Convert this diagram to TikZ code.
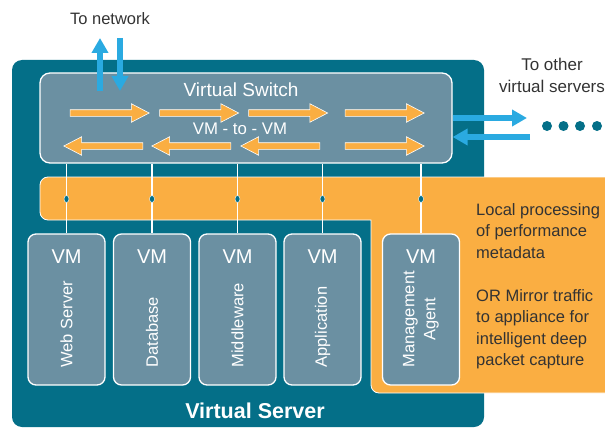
\documentclass[tikz,border=0pt]{standalone}
\usepackage{fontspec}
\setmainfont{Liberation Sans}
\usetikzlibrary{shapes.arrows, shapes.geometric, arrows.meta, positioning, calc}
\definecolor{vsteal}{RGB}{4, 111, 136}
\definecolor{vsgrey}{RGB}{107, 144, 162}
\definecolor{vsorange}{RGB}{250, 174, 66}
\definecolor{vsblue}{RGB}{42, 170, 225}
\definecolor{vstext}{RGB}{51, 51, 51}

\tikzset{
  vmbox/.style={draw=white, line width=1.3pt, fill=vsgrey, rounded corners=8pt,
    minimum width=77pt, minimum height=151pt, inner sep=0pt},
  vmtitle/.style={text=white, font=\fontsize{20}{24}\selectfont, inner sep=0pt},
  vmrole/.style={text=white, font=\fontsize{16.5}{21}\selectfont, rotate=90,
    anchor=west, align=center, inner sep=0pt},
  flowarrow/.style={single arrow, draw=white, line width=0.6pt, fill=vsorange,
    minimum height=79pt, inner xsep=0pt, inner ysep=3pt,
    single arrow head extend=6pt, single arrow tip angle=55},
  netarrow/.style={draw=vsblue, line width=6.5pt,
    -{Triangle[length=15pt, width=16pt]}},
  tapdot/.style={ellipse, fill=vsteal, draw=white, line width=0.4pt,
    minimum width=5pt, minimum height=7pt, inner sep=0pt},
  moredot/.style={circle, fill=vsteal, minimum size=10pt, inner sep=0pt},
  note/.style={text=vstext, inner sep=0pt}
}

\begin{document}
\begin{tikzpicture}[x=1pt, y=-1pt]
\useasboundingbox (0,0) rectangle (605,428);
\clip (0,0) rectangle (605,428);

% server and tap panel
\fill[vsteal, rounded corners=10pt] (12,60) rectangle (484,427);
\draw[white, line width=0.8pt, fill=vsorange]
  (40,199) [rounded corners=8pt] -- (40,177) -- (620,177) -- (620,393) -- (371,393)
  [sharp corners] -- (371,220) [rounded corners=8pt] -- (40,220) -- cycle;

% virtual switch
\node[draw=white, line width=1.3pt, fill=vsgrey, rounded corners=10pt,
  minimum width=412pt, minimum height=90pt] (vswitch) at (246,118) {};
\node[text=white, font=\fontsize{19}{23}\selectfont, inner sep=0pt] (swname) at (241,90) {Virtual Switch};
\node[text=white, font=\fontsize{16.8}{20}\selectfont, inner sep=0pt] (vmtovm) at (240,129) {VM - to - VM};

\foreach \x in {106.5,196,285,381.5}
  \node[flowarrow] at (\x,113) {};
\foreach \x in {106.5,194.5,283.5}
  \node[flowarrow, shape border rotate=180] at (\x,146) {};
\node[flowarrow] at (381.5,146) {};

% virtual machines
\node[vmbox] (vm1) at (66.5,309.5) {};
\node[vmbox] (vm2) at (152,309.5) {};
\node[vmbox] (vm3) at (237.5,309.5) {};
\node[vmbox] (vm4) at (322.5,309.5) {};
\node[vmbox] (vm5) at (421,309.5) {};

\foreach \v/\role in {vm1/Web Server, vm2/Database, vm3/Middleware,
    vm4/Application, vm5/Management\\Agent} {
  \node[vmtitle] at ($(\v.north)+(0,23)$) {VM};
  \node[vmrole] at ($(\v.south)+(0,-18)$) {\role};
  \draw[white, line width=1.5pt] (vswitch.south -| \v.north) -- (\v.north);
  \node[tapdot] at (\v.north |- 0,199) {};
}

\node[text=white, font=\bfseries\fontsize{21.5}{25}\selectfont, inner sep=0pt] (srvname) at (255,411) {Virtual Server};

% links out
\node[note, font=\fontsize{16.5}{20}\selectfont] (tonet) at (110,19) {To network};
\coordinate (upfoot) at (100,91);
\coordinate (uptip) at (100,38);
\coordinate (dnfoot) at (120,38);
\coordinate (dntip) at (120,91);
\draw[netarrow] (upfoot) -- (uptip);
\draw[netarrow] (dnfoot) -- (dntip);

\node[note, font=\fontsize{17}{22}\selectfont, align=center] (toother) at (552,75) {To other\\virtual servers};
\coordinate (outfoot) at (vswitch.east |- 0,118);
\coordinate (outtip) at (527,118);
\coordinate (infoot) at (530,137);
\coordinate (intip) at (vswitch.east |- 0,137);
\draw[netarrow] (outfoot) -- (outtip);
\draw[netarrow] (infoot) -- (intip);

\foreach \x [count=\i] in {547,563.5,580,597}
  \node[moredot] (more\i) at (\x,126) {};

% tap note
\node[note, font=\fontsize{16.5}{21.5}\selectfont, align=left, anchor=north west] (tapnote) at (476,203)
  {Local processing\\of performance\\metadata\\[21.5pt]OR Mirror traffic\\to appliance for\\intelligent deep\\packet capture};
\end{tikzpicture}
\end{document}
